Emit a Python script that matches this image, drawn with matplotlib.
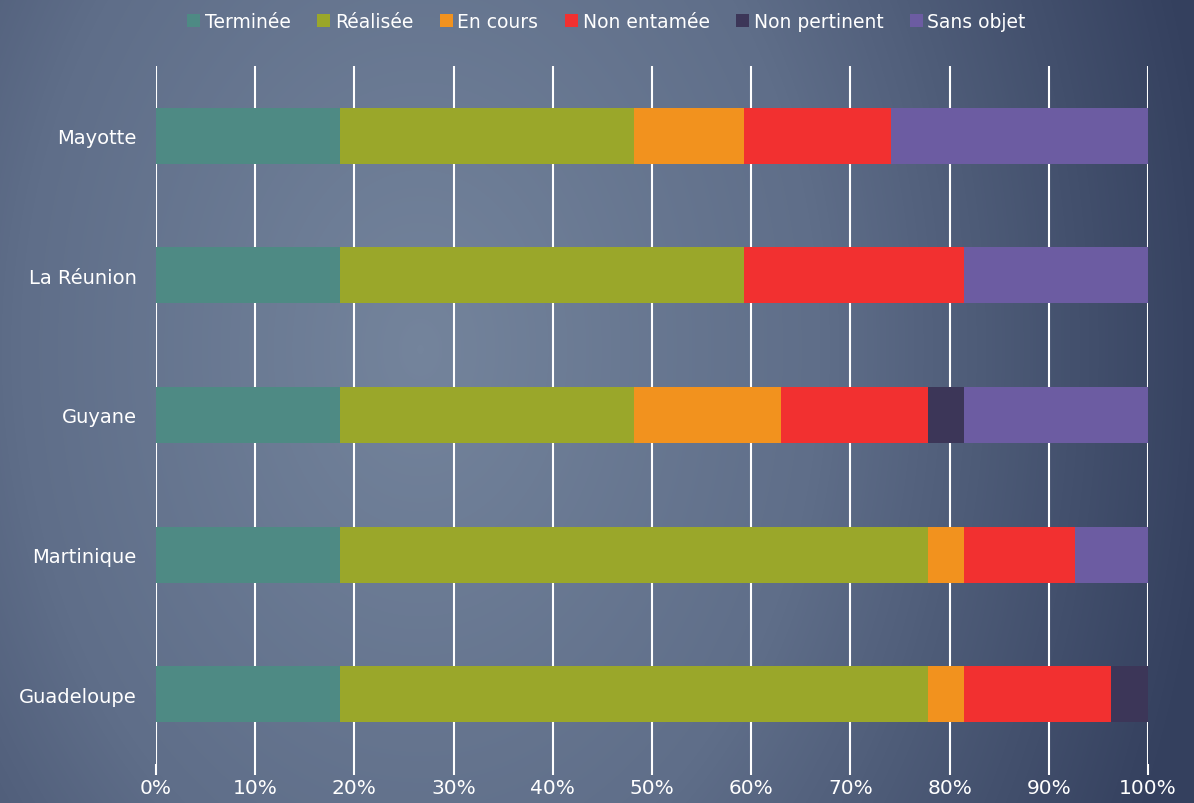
import numpy as np
import matplotlib
matplotlib.use("Agg")
import matplotlib.pyplot as plt
from matplotlib.colors import LinearSegmentedColormap

# donnees (nombre de mesures par territoire)
territoires = ["Guadeloupe", "Martinique", "Guyane", "La Réunion", "Mayotte"]
etats = ["Terminée", "Réalisée", "En cours", "Non entamée", "Non pertinent", "Sans objet"]
terminee = [5, 5, 5, 5, 5]
realisee = [16, 16, 8, 11, 8]
en_cours = [1, 1, 4, 0, 3]
non_entamee = [4, 3, 4, 6, 4]
non_pertinent = [1, 0, 1, 0, 0]
sans_objet = [0, 2, 5, 5, 7]
couleurs = ["#4e8a84", "#9aa72a", "#f2921e", "#f23030", "#3c3658", "#6c5ca2"]
graduations = ["0%", "10%", "20%", "30%", "40%", "50%", "60%", "70%", "80%", "90%", "100%"]

series = np.array([terminee, realisee, en_cours, non_entamee, non_pertinent, sans_objet], dtype=float)
pct = series / series.sum(axis=0) * 100

fig = plt.figure(figsize=(11.94, 8.04), dpi=100)

# fond degrade
bg = fig.add_axes([0, 0, 1, 1])
h, w = 804, 1194
yy, xx = np.mgrid[0:h, 0:w]
d = np.sqrt(((xx - 420) / 1000.0) ** 2 + ((yy - 350) / 1400.0) ** 2)
d = np.clip(d / 0.8, 0, 1)
cmap_bg = LinearSegmentedColormap.from_list("bg", ["#74849c", "#5f6e89", "#34405e"])
bg.imshow(d, cmap=cmap_bg, aspect="auto", extent=[0, 1, 0, 1], vmin=0, vmax=1)
bg.axis("off")

ax = fig.add_axes([156 / 1194, 1 - 765 / 804, 992 / 1194, 698 / 804])
ax.patch.set_alpha(0)
y = np.arange(len(territoires))
gauche = np.zeros(len(territoires))
for i in range(len(etats)):
    ax.barh(y, pct[i], left=gauche, height=0.4, color=couleurs[i], label=etats[i], zorder=3)
    gauche += pct[i]

ax.set_xlim(0, 100)
ax.set_ylim(-0.5, len(territoires) - 0.5)
ax.set_xticks(np.arange(0, 101, 10))
ax.set_xticklabels(graduations)
ax.set_yticks(y)
ax.set_yticklabels(territoires)
ax.grid(axis="x", color="white", linewidth=1.5, zorder=0)
for s in ax.spines.values():
    s.set_visible(False)
ax.tick_params(axis="x", colors="white", length=8, width=1.5, labelsize=14.5, pad=2)
ax.tick_params(axis="y", colors="white", length=0, labelsize=14, pad=14)

leg = fig.legend(loc="upper center", bbox_to_anchor=(0.508, 1.005), ncol=6, frameon=False,
                 fontsize=13.5, handlelength=0.7, handleheight=0.7, handletextpad=0.25,
                 columnspacing=1.4)
for t in leg.get_texts():
    t.set_color("white")

fig.savefig("out.png", dpi=100)
